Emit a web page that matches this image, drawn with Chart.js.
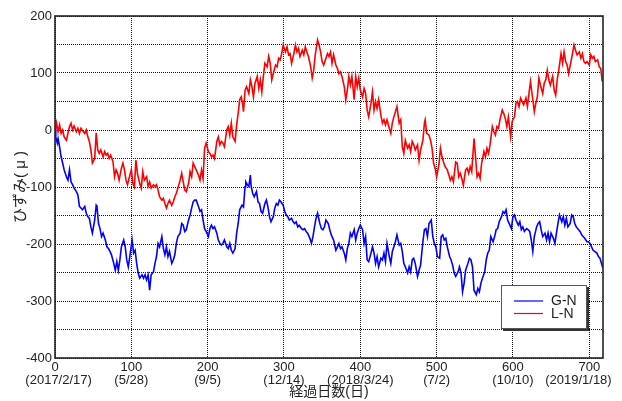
<!DOCTYPE html>
<html>
<head>
<meta charset="utf-8">
<script src="https://cdn.jsdelivr.net/npm/chart.js@4/dist/chart.umd.min.js"></script>
<style>
html, body { margin: 0; padding: 0; background: #fff; }
canvas { display: block; }
</style>
</head>
<body>
<canvas id="c" width="622" height="401"></canvas>
<script>
// Elapsed-day axis ticks and the calendar date under each one
const dayTicks = [0, 100, 200, 300, 400, 500, 600, 700];
const dateLabels = ['2017/2/17', '5/28', '9/5', '12/14', '2018/3/24', '7/2', '10/10', '2019/1/18'];

// G-N strain (μ) by elapsed day
const gnDays = [0,1,3,4,6,8,10,12,15,17,19,21,23,25,28,30,32,34,36,39,41,43,45,47,49,52,54,55,57,59,61,63,66,68,70,72,74,77,79,81,83,85,87,90,92,94,96,98,101,103,105,107,109,111,114,116,118,
  120,122,124,126,129,131,133,135,137,140,142,144,146,148,150,153,155,157,159,161,164,166,168,170,172,175,177,179,181,183,185,188,190,192,194,196,198,201,203,205,207,209,212,214,216,218,220,222,225,227,229,231,233,236,238,240,
  242,245,247,249,250,252,254,256,257,259,261,264,266,268,270,272,275,277,279,281,283,286,288,290,292,294,296,299,301,303,305,307,310,312,314,316,318,320,323,325,327,329,331,334,336,338,340,342,344,347,349,351,353,355,358,360,362,
  363,365,368,370,372,374,376,379,381,383,385,387,389,392,394,396,398,400,403,405,407,409,411,414,416,418,420,422,424,427,429,431,433,435,438,440,442,444,446,448,451,453,455,457,459,462,464,466,468,470,472,475,477,479,
  482,484,486,488,490,493,495,497,499,501,504,506,508,510,512,514,517,519,521,523,525,528,530,532,534,536,538,541,543,545,547,549,552,554,556,558,560,563,565,567,569,571,574,576,578,580,582,585,587,589,591,593,596,598,
  600,602,604,607,609,611,613,615,618,620,622,624,626,628,631,633,635,637,639,642,644,646,648,650,653,655,657,659,661,664,666,668,670,672,675,677,679,681,683,686,688,690,692,694,697,699,701,703,705,707,710,712,714,716,718];
const gnValues = [0,-12,-23,-15,-29,-47,-58,-70,-82,-88,-70,-91,-96,-102,-108,-114,-134,-137,-140,-134,-146,-152,-155,-170,-181,-158,-132,-134,-164,-173,-187,-181,-193,-205,-208,-213,-219,-234,-246,-231,-246,-228,-205,-193,-205,-228,-240,-222,-193,-216,-211,-234,-251,-260,-254,-260,-254,
  -263,-254,-281,-254,-249,-234,-222,-199,-205,-187,-208,-219,-205,-222,-213,-234,-228,-219,-199,-187,-181,-164,-167,-178,-175,-158,-149,-137,-126,-123,-123,-134,-143,-140,-158,-173,-178,-187,-173,-167,-173,-170,-181,-193,-199,-202,-199,-193,-205,-208,-199,-211,-216,-208,-181,-164,
  -140,-132,-135,-99,-91,-96,-99,-79,-99,-111,-117,-108,-126,-129,-143,-146,-129,-123,-135,-152,-161,-152,-137,-129,-132,-123,-126,-132,-143,-149,-152,-158,-155,-161,-164,-161,-170,-167,-173,-175,-173,-178,-181,-190,-199,-187,-170,-155,-146,-164,-173,-175,-170,-158,-164,-175,-184,
  -187,-193,-211,-205,-199,-208,-205,-216,-228,-208,-199,-181,-187,-175,-193,-181,-173,-167,-175,-199,-187,-228,-231,-216,-205,-216,-234,-222,-240,-225,-228,-216,-231,-199,-222,-234,-213,-205,-196,-184,-202,-199,-213,-234,-240,-251,-240,-249,-228,-225,-234,-257,-246,-237,
  -196,-175,-173,-187,-164,-158,-187,-199,-205,-222,-225,-187,-184,-193,-190,-205,-222,-228,-237,-251,-257,-249,-240,-251,-284,-269,-246,-234,-225,-228,-240,-281,-289,-278,-284,-269,-260,-249,-228,-216,-211,-187,-196,-187,-175,-173,-161,-152,-143,-146,-140,-158,-167,-173,
  -152,-149,-158,-167,-161,-175,-170,-178,-173,-175,-178,-193,-213,-187,-170,-164,-161,-175,-187,-181,-193,-181,-196,-181,-190,-199,-181,-164,-149,-161,-152,-167,-155,-170,-164,-149,-152,-164,-170,-175,-178,-184,-187,-190,-196,-196,-199,-205,-211,-213,-216,-222,-225,-234,-243];

// L-N strain (μ) by elapsed day
const lnDays = [0,1,2,4,6,8,10,12,15,17,19,21,23,25,28,30,32,34,36,39,41,43,45,47,49,52,54,56,58,60,63,65,67,69,71,73,76,78,80,82,84,87,89,91,93,95,97,100,102,104,106,108,111,113,115,117,
  120,122,124,126,129,131,133,135,137,140,142,144,146,148,150,153,155,157,159,161,164,166,168,170,172,175,177,179,181,183,185,188,190,192,194,196,198,201,203,205,207,209,212,214,216,218,220,222,225,227,229,231,233,236,238,240,
  242,244,246,247,249,251,254,256,258,260,262,265,267,269,271,273,275,278,280,282,284,286,289,291,293,295,297,299,302,304,306,308,310,313,315,317,319,321,324,326,328,330,332,335,337,339,341,344,346,348,350,352,355,357,
  359,361,363,365,368,370,372,374,376,379,381,383,385,387,389,392,394,396,398,400,403,405,407,409,411,414,416,418,420,422,424,427,429,431,433,435,438,440,442,444,446,448,451,453,455,457,459,462,464,466,468,470,472,475,477,479,
  482,484,485,487,490,492,494,496,498,500,503,505,507,509,511,514,516,518,520,522,525,527,529,531,533,535,538,540,542,544,546,549,551,553,555,557,559,562,564,566,568,570,573,575,577,579,581,583,586,588,590,592,594,597,599,
  602,604,606,608,610,612,614,617,619,621,623,625,628,630,632,634,636,639,641,643,645,647,649,652,654,656,658,660,663,665,667,669,671,673,676,678,680,682,684,687,689,691,693,695,697,700,702,704,706,708,711,713,715,717];
const lnValues = [0,3,12,-3,9,-6,0,-12,-18,-6,6,12,0,7,-3,3,-6,3,-1,-6,0,-12,-20,-35,-58,-50,-5,-35,-41,-35,-47,-38,-44,-41,-50,-44,-56,-82,-70,-76,-88,-67,-58,-70,-88,-96,-85,-70,-94,-100,-53,-76,-94,-102,-73,-88,
  -82,-99,-91,-102,-96,-99,-96,-105,-117,-123,-120,-129,-137,-129,-123,-132,-126,-117,-111,-102,-88,-76,-91,-105,-108,-94,-73,-82,-58,-64,-70,-79,-88,-70,-85,-32,-23,-38,-41,-47,-44,-50,-20,-12,-26,-20,-23,-29,0,6,-9,12,-12,-20,9,29,
  53,58,44,32,70,76,64,88,76,58,82,94,73,88,67,94,117,111,129,117,88,99,114,111,126,123,134,149,137,146,132,134,117,134,149,137,143,129,140,132,146,137,129,111,91,105,132,158,149,137,120,114,126,134,
  129,137,117,132,114,108,99,102,94,76,53,70,94,79,94,53,94,76,91,70,58,73,64,35,23,47,67,35,50,38,53,26,12,18,9,18,3,-6,12,23,32,41,12,18,-29,-41,-18,-32,-26,-38,-20,-26,-35,-26,-53,-35,
  -18,12,18,-6,-9,-18,-32,-58,-67,-82,-61,-32,-47,-56,-64,-70,-79,-88,-82,-91,-56,-58,-82,-76,-85,-97,-70,-67,-76,-64,-73,-15,-47,-82,-76,-85,-58,-38,-47,-32,-41,-26,6,-3,-9,6,3,18,35,29,20,6,23,-12,15,
  23,47,50,41,56,50,44,56,41,64,85,64,32,47,58,91,79,64,82,88,105,88,79,94,70,61,88,105,134,117,137,120,114,99,120,134,149,140,132,137,126,134,120,117,120,114,132,126,129,120,123,111,108,85];

const FONT = '"Liberation Sans", Arial, "Noto Sans CJK JP", sans-serif';
const INK = '#222';

function toPoints(days, values) {
  return days.map((d, i) => ({ x: d, y: values[i] }));
}

// Date line under a day tick; the outermost ones are nudged inward so they stay on the canvas
function dateLine(i) {
  const text = '(' + dateLabels[i] + ')';
  if (i === 0) return '  ' + text;
  if (i === dateLabels.length - 1) return text + '      ';
  return text;
}

// Solid frame around the plot area
const framePlugin = {
  id: 'frame',
  afterDatasetsDraw(chart) {
    const { ctx, chartArea: a } = chart;
    ctx.save();
    ctx.strokeStyle = '#222';
    ctx.lineWidth = 1.6;
    ctx.strokeRect(a.left, a.top, a.right - a.left, a.bottom - a.top);
    ctx.restore();
  }
};

// Boxed legend with a drop shadow in the lower right of the plot
const boxLegendPlugin = {
  id: 'boxLegend',
  afterDraw(chart) {
    const { ctx, chartArea: a } = chart;
    const bw = 86, bh = 44;
    const bx = a.right - 16 - bw, by = a.bottom - 29 - bh;
    ctx.save();
    ctx.fillStyle = '#333';
    ctx.fillRect(bx + 2, by + 2, bw, bh);
    ctx.fillStyle = '#fff';
    ctx.fillRect(bx, by, bw, bh);
    ctx.strokeStyle = '#555';
    ctx.lineWidth = 1;
    ctx.strokeRect(bx + 0.5, by + 0.5, bw - 1, bh - 1);
    ctx.font = '14px ' + FONT;
    ctx.textBaseline = 'middle';
    chart.data.datasets.forEach((ds, i) => {
      const y = by + 16 + i * 12.5;
      ctx.strokeStyle = ds.borderColor;
      ctx.lineWidth = 1.2;
      ctx.beginPath();
      ctx.moveTo(bx + 13, y);
      ctx.lineTo(bx + 42, y);
      ctx.stroke();
      ctx.fillStyle = INK;
      ctx.fillText(ds.label, bx + 50, y + 0.5);
    });
    ctx.restore();
  }
};

new Chart(document.getElementById('c'), {
  type: 'line',
  data: {
    datasets: [
      { label: 'G-N', data: toPoints(gnDays, gnValues), borderColor: '#0000ff', borderWidth: 1.6, pointRadius: 0, fill: false, tension: 0 },
      { label: 'L-N', data: toPoints(lnDays, lnValues), borderColor: '#ff0000', borderWidth: 1.6, pointRadius: 0, fill: false, tension: 0 }
    ]
  },
  options: {
    responsive: false,
    animation: false,
    devicePixelRatio: 1,
    layout: { padding: { left: 0, right: 19, top: 16, bottom: 0 } },
    plugins: { legend: { display: false }, tooltip: { enabled: false } },
    scales: {
      x: {
        type: 'linear',
        min: 0,
        max: 718,
        afterBuildTicks: s => { s.ticks = dayTicks.map(v => ({ value: v })); },
        afterFit: s => { s.height = 43; s.paddingLeft = 0; s.paddingRight = 0; },
        grid: { color: '#111', lineWidth: 1, drawTicks: false },
        border: { display: false, dash: [1, 1] },
        ticks: {
          autoSkip: false,
          maxRotation: 0,
          padding: 3,
          color: INK,
          font: { family: FONT, size: 13, lineHeight: 1 },
          callback: v => [String(v), dateLine(dayTicks.indexOf(v))]
        },
        title: {
          display: true,
          text: '経過日数(日)',
          color: INK,
          font: { family: FONT, size: 14, lineHeight: 1.2 },
          padding: { top: 0, bottom: 0 }
        }
      },
      y: {
        min: -400,
        max: 200,
        afterFit: s => { s.width = 55; s.paddingTop = 0; s.paddingBottom = 0; },
        grid: { color: '#111', lineWidth: 1, drawTicks: false },
        border: { display: false, dash: [1, 1] },
        ticks: {
          stepSize: 50,
          padding: 3,
          color: INK,
          font: { family: FONT, size: 13 },
          callback: v => (v % 100 === 0 ? String(v) : '')
        },
        title: {
          display: true,
          text: 'ひずみ( μ )',
          color: INK,
          font: { family: FONT, size: 15, lineHeight: 1.2 },
          padding: { top: 12, bottom: 0 }
        }
      }
    }
  },
  plugins: [framePlugin, boxLegendPlugin]
});
</script>
</body>
</html>
